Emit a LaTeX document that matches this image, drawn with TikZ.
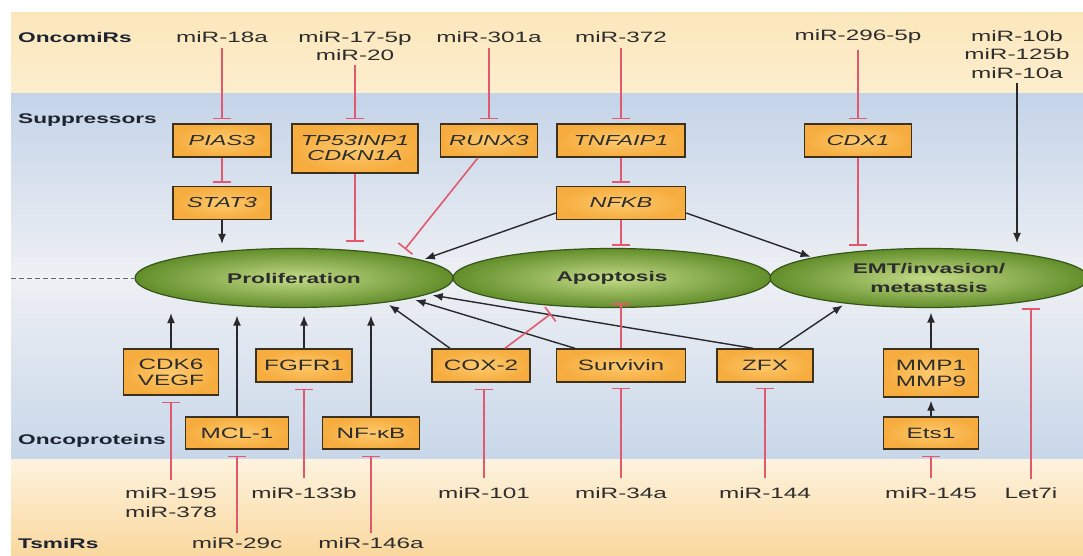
\documentclass[tikz,border=0pt]{standalone}
\usepackage{fontspec}
\setmainfont{Liberation Sans}[FakeStretch=1.62]
\usepackage{tikz}
\usetikzlibrary{shapes, arrows.meta, calc}
\definecolor{oncotop}{RGB}{251, 231, 188}
\definecolor{oncobot}{RGB}{252, 238, 205}
\definecolor{protop}{RGB}{196, 212, 232}
\definecolor{promid}{RGB}{238, 240, 244}
\definecolor{probot}{RGB}{200, 215, 233}
\definecolor{tsmtop}{RGB}{253, 243, 222}
\definecolor{tsmbot}{RGB}{250, 216, 158}
\definecolor{boxin}{RGB}{253, 202, 110}
\definecolor{boxout}{RGB}{246, 172, 62}
\definecolor{boxline}{RGB}{60, 48, 30}
\definecolor{ellin}{RGB}{196, 219, 136}
\definecolor{ellout}{RGB}{98, 142, 42}
\definecolor{ellline}{RGB}{55, 85, 25}
\definecolor{inhred}{RGB}{226, 88, 108}
\definecolor{actgray}{RGB}{40, 40, 45}
\definecolor{textdark}{RGB}{45, 45, 45}
\definecolor{labeldark}{RGB}{30, 35, 50}

\tikzset{
  gene/.style={draw=boxline, line width=1.4pt, shading=radial, inner color=boxin, outer color=boxout, inner sep=0pt, minimum height=33pt, text=textdark, align=center, font=\fontsize{15}{16}\selectfont},
  supp/.style={gene, font=\fontsize{14.5}{15}\selectfont\itshape},
  process/.style={ellipse, draw=ellline, line width=1.2pt, shading=radial, inner color=ellin, outer color=ellout, minimum width=318pt, minimum height=59pt, inner sep=0pt, text=textdark, align=center, font=\fontsize{14}{19}\selectfont\bfseries},
  mir/.style={font=\fontsize{15}{18.5}\selectfont, text=textdark, align=center, inner sep=1.5pt},
  band/.style={font=\fontsize{14}{14}\selectfont\bfseries, text=labeldark, anchor=west, inner sep=0pt},
  inhib/.style={draw=inhred, line width=1.6pt, -{Bar[width=18pt]}},
  act/.style={draw=actgray, line width=1.4pt, -{Latex[length=10pt, width=8pt]}}
}

\begin{document}
\begin{tikzpicture}[x=1pt, y=-1pt]
  \useasboundingbox (0,0) rectangle (1083,556);
  \fill[white] (0,0) rectangle (1083,556);
  \shade[top color=oncotop, bottom color=oncobot] (11,13) rectangle (1083,94);
  \shade[top color=protop, bottom color=probot, middle color=promid] (11,94) rectangle (1083,459);
  \shade[top color=tsmtop, bottom color=tsmbot] (11,459) rectangle (1083,556);

  \node[band] (oncolab) at (18,37) {OncomiRs};
  \node[band] (supplab) at (18,120) {Suppressors};
  \node[band] (protlab) at (18,441) {Oncoproteins};
  \node[band] (tsmlab) at (18,543) {TsmiRs};

  \node[mir] (m18a) at (222,37) {miR-18a};
  \node[mir] (m17) at (355,46) {miR-17-5p\\miR-20};
  \node[mir] (m301) at (489,37) {miR-301a};
  \node[mir] (m372) at (621,37) {miR-372};
  \node[mir] (m296) at (858,37) {miR-296-5p};
  \node[mir] (m10) at (1017,54.5) {miR-10b\\miR-125b\\miR-10a};

  \node[supp, minimum width=98pt] (pias) at (222,140.5) {PIAS3};
  \node[supp, minimum width=126pt, minimum height=49pt] (tp53) at (355,148.5) {TP53INP1\\CDKN1A};
  \node[supp, minimum width=97pt] (runx) at (489,140.5) {RUNX3};
  \node[supp, minimum width=128pt] (tnf) at (621,140.5) {TNFAIP1};
  \node[supp, minimum width=107pt] (cdx) at (858,140.5) {CDX1};
  \node[supp, minimum width=98pt] (stat) at (222,203) {STAT3};
  \node[supp, minimum width=129pt] (nfkb) at (621,203) {NFKB};

  \coordinate (dashstart) at (11,278);
  \node[process] (prolif) at (294,278) {Proliferation};
  \node[process] (apop) at (612,278) {Apoptosis};
  \node[process] (emt) at (929,278) {EMT/invasion/\\metastasis};
  \draw[draw=gray!80!black, line width=1pt, dash pattern=on 5pt off 3pt] (dashstart) -- (prolif.west);

  \node[gene, minimum width=95pt, minimum height=46pt] (cdk) at (171,372) {CDK6\\VEGF};
  \node[gene, minimum width=96pt] (fgfr) at (304,365.5) {FGFR1};
  \node[gene, minimum width=98pt] (cox) at (481,365.5) {COX-2};
  \node[gene, minimum width=129pt] (surv) at (621,365.5) {Survivin};
  \node[gene, minimum width=96pt] (zfx) at (765,365.5) {ZFX};
  \node[gene, minimum width=95pt, minimum height=48pt] (mmp) at (931,373) {MMP1\\MMP9};
  \node[gene, minimum width=103pt, minimum height=32pt] (mcl) at (237,433) {MCL-1};
  \node[gene, minimum width=97pt, minimum height=32pt] (nfkb2) at (371,433) {NF-κB};
  \node[gene, minimum width=95pt, minimum height=32pt] (ets) at (931,433) {Ets1};

  \node[mir] (m195) at (171,502.5) {miR-195\\miR-378};
  \node[mir] (m133) at (304,493) {miR-133b};
  \node[mir] (m101) at (484,493) {miR-101};
  \node[mir] (m34) at (621,493) {miR-34a};
  \node[mir] (m144) at (765,493) {miR-144};
  \node[mir] (m145) at (931,493) {miR-145};
  \node[mir] (let7) at (1031,493) {Let7i};
  \node[mir] (m29) at (237,543) {miR-29c};
  \node[mir] (m146) at (371,543) {miR-146a};

  \draw[inhib, shorten <=4pt, shorten >=4pt] (m18a) -- (pias);
  \draw[inhib, shorten <=3pt, shorten >=4pt] (m17) -- (tp53);
  \draw[inhib, shorten <=4pt, shorten >=4pt] (m301) -- (runx);
  \draw[inhib, shorten <=4pt, shorten >=4pt] (m372) -- (tnf);
  \draw[inhib, shorten <=4pt, shorten >=4pt] (m296) -- (cdx);
  \draw[act, shorten <=3pt, shorten >=5pt] (m10) -- (m10 |- emt.north);
  \draw[inhib, shorten >=3pt] (pias) -- (stat);
  \draw[inhib, shorten >=3pt] (tnf) -- (nfkb);
  \draw[act, shorten >=4pt] (stat) -- (stat |- prolif.north);
  \draw[inhib, shorten >=6pt] (tp53) -- (tp53 |- prolif.north);
  \draw[inhib, shorten >=8pt] ([xshift=-11pt]runx.south) -- (prolif.12);
  \draw[act, shorten >=3pt] ([yshift=-10pt]nfkb.west) -- (prolif.8);
  \draw[inhib, shorten >=2pt] (nfkb) -- (nfkb |- apop.north);
  \draw[act, shorten >=2pt] ([yshift=-10pt]nfkb.east) -- (emt.170);
  \draw[inhib, shorten >=2pt] (cdx) -- (cdx |- emt.north);

  \draw[act, shorten >=5pt] (cdk) -- (cdk |- prolif.south);
  \draw[act, shorten >=7.5pt] (mcl) -- (mcl |- prolif.south);
  \draw[act, shorten >=7.5pt] (fgfr) -- (fgfr |- prolif.south);
  \draw[act, shorten >=7.5pt] (nfkb2) -- (nfkb2 |- prolif.south);
  \draw[act, shorten >=4pt] ([xshift=-31pt]cox.north) -- (prolif.-15);
  \draw[act, shorten >=5pt] ([xshift=-46pt]surv.north) -- (prolif.-10);
  \draw[act, shorten >=5pt] ([xshift=-12pt]zfx.north) -- (prolif.-7);
  \draw[inhib, shorten >=12pt] ([xshift=24pt]cox.north) -- (apop.209);
  \draw[inhib, shorten >=-5pt] (surv) -- (surv |- apop.south);
  \draw[act, shorten >=3pt] ([xshift=14pt]zfx.north) -- (emt.197);
  \draw[act, shorten >=4.5pt] (mmp) -- (mmp |- emt.south);
  \draw[act, shorten >=3pt] (ets) -- (mmp);
  \draw[inhib, shorten <=7pt] (let7) -- (let7 |- emt.south);

  \draw[inhib, shorten <=6pt, shorten >=6pt] (m195) -- (cdk);
  \draw[inhib, shorten <=8pt, shorten >=6pt] (m133) -- (fgfr);
  \draw[inhib, shorten <=8pt, shorten >=6pt] (m101) -- (m101 |- cox.south);
  \draw[inhib, shorten <=8pt, shorten >=5pt] (m34) -- (surv);
  \draw[inhib, shorten <=8pt, shorten >=5pt] (m144) -- (zfx);
  \draw[inhib, shorten <=8pt, shorten >=6pt] (m145) -- (ets);
  \draw[inhib, shorten <=3pt, shorten >=6pt] (m29) -- (mcl);
  \draw[inhib, shorten <=3pt, shorten >=6pt] (m146) -- (nfkb2);
\end{tikzpicture}
\end{document}
